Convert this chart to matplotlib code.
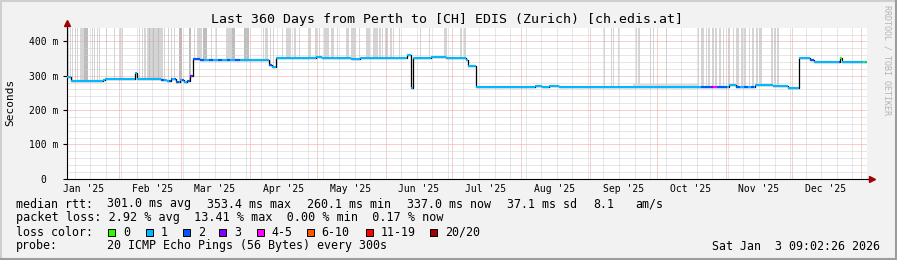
import numpy as np
import matplotlib
matplotlib.use("Agg")
import matplotlib.pyplot as plt
import matplotlib.dates as mdates
from matplotlib.patches import Rectangle
from datetime import datetime, timedelta

W, H = 897, 260
MONO = "DejaVu Sans Mono"
plt.rcParams["font.family"] = MONO

start = datetime(2025, 1, 8, 9, 2, 26)
ndays = 360
ymax = 440

# median rtt in ms, each value holds from its day offset until the next one
med_day = [0, 2, 16.3, 17.3, 30.8, 31.6, 42.5, 45, 47, 49.3, 51, 53, 54, 55.7, 56.8,
           60, 65, 70, 77.6, 85, 91.1, 92.5, 94.3, 100, 112.3, 115, 128, 132, 153.2,
           155, 155.9, 164, 170.8, 179.8, 180.7, 184.2, 197.8, 210.8, 214, 217.1,
           221.6, 240, 260, 285.5, 298.1, 301.3, 309.9, 317.8, 324.6, 329.5, 334.6,
           336.4, 348.2, 348.8]
med_ms = [296, 285, 289, 291, 309, 291, 288, 285, 290, 283, 287, 281, 286, 300, 348,
          346, 345, 347, 345, 346, 330, 325, 353, 351, 355, 352, 350, 352, 360,
          263, 352, 356, 352, 347, 328, 266, 268, 271, 268, 271,
          267, 266, 267, 267, 272, 266, 272, 270, 265, 352, 347,
          340, 352, 340]

# loss colour runs that differ from "1" (day from, day to, bucket)
loss_runs = [(42.5, 44, "2"), (46, 47.5, "2"), (49, 50.5, "2"), (52, 53, "2"),
             (54, 55.7, "2"), (55.7, 56.8, "3"), (56.8, 62, "2"), (64, 66, "2"),
             (68, 70, "2"), (72, 73.5, "2"), (76, 78, "2"), (91, 92.5, "2"),
             (285.5, 290, "2"), (290, 291, "3"), (291, 292.5, "4-5"),
             (292.5, 297, "2"), (301.3, 303, "2"), (305, 306.5, "2"),
             (308, 309.5, "2"), (334.6, 336.4, "2"), (347.5, 348.2, "2"),
             (348.2, 348.8, "0"), (358.5, 359.3, "0")]

# smoke: day ranges where the ping spread reaches the top of the graph
smoke_light = [(0.8, 1.3), (1.7, 2.1), (2.6, 3.0), (3.7, 4.1), (4.7, 5.1), (5.9, 6.3),
               (6.5, 7.7), (11.3, 11.8), (12.5, 13.0),
               (13.7, 14.2), (14.8, 15.2), (17.8, 18.1), (21.5, 22.0), (24.2, 24.7),
               (25.1, 25.4), (32.5, 33.2), (34.1, 34.6), (35.0, 35.9), (36.2, 43.3),
               (44.0, 44.5), (45.5, 45.8), (47.0, 47.5), (48.5, 49.0), (57.5, 58.0),
               (58.6, 61.0), (65.0, 65.5),
               (67.3, 67.7), (71.8, 74.5), (88.3, 88.6), (89.5, 90.5), (91.6, 92.2),
               (92.8, 93.1), (97.0, 97.3), (98.8, 101.0), (102.5, 103.3), (104.8, 105.1),
               (108.5, 110.0), (111.8, 112.7), (113.5, 114.1), (116.0, 118.0),
               (119.0, 120.5), (121.7, 122.0), (125.8, 127.3), (128.0, 130.3),
               (131.5, 131.9), (134.8, 136.7), (137.8, 138.2), (138.5, 140.0),
               (140.8, 141.5), (141.8, 142.6), (143.3, 144.5), (145.7, 146.5),
               (146.9, 147.2), (149.8, 150.2), (159.2, 159.5), (163.3, 163.6),
               (170.0, 171.2), (177.2, 177.8), (179.0, 179.8), (241.7, 242.0),
               (245.0, 245.5), (246.1, 246.5), (248.3, 248.8), (256.3, 256.7),
               (257.3, 258.2), (262.7, 263.0), (263.8, 264.2), (269.8, 270.2),
               (284.0, 284.8), (285.5, 287.0), (287.8, 288.2), (288.8, 289.7),
               (290.5, 291.2), (292.0, 292.7), (293.5, 294.5), (295.3, 296.0),
               (297.5, 298.4), (299.8, 300.2), (301.3, 302.8), (303.5, 304.3),
               (305.0, 305.8), (307.0, 307.6), (308.5, 309.5), (310.3, 311.2),
               (311.8, 313.0), (317.0, 317.8), (318.5, 319.3), (319.7, 320.5)]
smoke_dark = [(8.0, 9.8), (37.0, 37.4), (38.8, 39.2), (41.0, 41.4), (50.8, 52.1),
              (55.1, 56.0), (61.6, 63.0), (74.5, 76.0), (80.0, 82.3)]
# low smoke just above the median line (day from, day to, top ms)
smoke_low = [(255, 284, 277)]

loss_colors = {"0": "#26ff00", "1": "#00b8ff", "2": "#0059ff", "3": "#7e00ff",
               "4-5": "#ff00ff", "6-10": "#ff5500", "11-19": "#ff0000", "20/20": "#a10000"}

y_ticks = [0, 100, 200, 300, 400]
y_labels = ["0  ", "100 m", "200 m", "300 m", "400 m"]

t0 = mdates.date2num(start)


def med_at(d):
    i = np.searchsorted(med_day, d, side="right") - 1
    return med_ms[max(i, 0)]


def pieces(a, b):
    ends = med_day[1:] + [ndays]
    out = []
    for d0, d1, v in zip(med_day, ends, med_ms):
        lo, hi = max(a, d0), min(b, d1)
        if hi > lo:
            out.append((lo, hi, v))
    return out


fig = plt.figure(figsize=(W / 100, H / 100), dpi=100, facecolor="#f2f2f2")
ax = fig.add_axes([66.5 / W, 1 - 178.7 / H, 800 / W, 151 / H])
ax.set_facecolor("white")

# smoke
for d0, d1 in smoke_light:
    m = med_at((d0 + d1) / 2)
    ax.bar(t0 + d0, ymax + 10 - m, bottom=m, width=max(d1 - d0, 0.45), align="edge",
           color="#d5d5d5", lw=0, zorder=1)
for d0, d1 in smoke_dark:
    m = med_at((d0 + d1) / 2)
    ax.bar(t0 + d0, ymax + 10 - m, bottom=m, width=max(d1 - d0, 0.45), align="edge",
           color="#bdbdbd", lw=0, zorder=1)
for d0, d1, top in smoke_low:
    for a, b, v in pieces(d0, d1):
        ax.bar(t0 + a, top - v, bottom=v, width=b - a, align="edge",
               color="#dedede", lw=0, zorder=1)

# grid (rrdtool paints it over the data)
end = start + timedelta(days=ndays)
xmin, xmax = t0, t0 + ndays
months = [m for m in mdates.MonthLocator(bymonthday=1).tick_values(start, end) if xmin < m < xmax]
weeks = [w for w in mdates.WeekdayLocator(byweekday=mdates.SU).tick_values(start, end)
         if xmin < w < xmax and w not in months]
dots = (0, (1, 1))
grid = [ax.vlines(weeks, 0, ymax, colors="#cfcfcf", linestyles=dots, lw=0.72, zorder=2),
        ax.vlines(months, 0, ymax, colors="#f0a0a0", linestyles=dots, lw=0.72, zorder=2),
        ax.hlines([v for v in range(20, ymax, 20) if v % 100], xmin, xmax,
                  colors="#cfcfcf", linestyles=dots, lw=0.72, zorder=2),
        ax.hlines([100, 200, 300, 400], xmin, xmax, colors="#f0a0a0",
                  linestyles=dots, lw=0.72, zorder=2)]
for g in grid:
    g.set_snap(True)

# median line: black steps, loss coloured flats on top
ax.step([t0 + d for d in med_day] + [xmax], med_ms + [med_ms[-1]], where="post",
        color="black", lw=0.9, zorder=3)
for a, b, v in pieces(0, ndays):
    ax.hlines(v, t0 + a, t0 + b, colors=loss_colors["1"], lw=1.5, zorder=4)
for d0, d1, cat in loss_runs:
    for a, b, v in pieces(d0, d1):
        ax.hlines(v, t0 + a, t0 + b, colors=loss_colors[cat], lw=1.5, zorder=5)

ax.set_xlim(xmin, xmax)
ax.set_ylim(0, ymax)
ax.xaxis.set_major_locator(mdates.MonthLocator(bymonthday=16))
ax.xaxis.set_major_formatter(mdates.DateFormatter("%b '%y"))
ax.set_yticks(y_ticks)
ax.set_yticklabels(y_labels)
ax.tick_params(axis="x", length=0, pad=4, labelsize=7)
ax.tick_params(axis="y", length=3, width=0.8, pad=3, labelsize=7)
for s in ["top", "right"]:
    ax.spines[s].set_visible(False)
for s in ["left", "bottom"]:
    ax.spines[s].set_linewidth(0.8)

# axis arrows
ax.plot([0, 0], [1.0, 1.025], color="black", lw=0.8, transform=ax.transAxes, clip_on=False)
ax.plot([1.0, 1.004], [0, 0], color="black", lw=0.8, transform=ax.transAxes, clip_on=False)
ax.plot([0], [1.03], marker="^", ms=4.5, color="#a00000", transform=ax.transAxes, clip_on=False)
ax.plot([1.007], [0], marker=">", ms=4.5, color="#a00000", transform=ax.transAxes, clip_on=False)


def ftext(x, y, s, **kw):
    fig.text(x / W, 1 - y / H, s, va="center", **kw)


ftext(446.7, 19.5, "Last 360 Days from Perth to [CH] EDIS (Zurich) [ch.edis.at]",
      ha="center", fontsize=9.5)
ftext(10, 102, "Seconds", ha="center", rotation=90, fontsize=8)
ftext(887, 60, "RRDTOOL / TOBI OETIKER", ha="center", rotation=-90, fontsize=6,
      color="#b4b4b4")

fs = 8.4
line1 = [(16, "median rtt:"), (107.3, "301.0 ms avg"), (207.3, "353.4 ms max"),
         (306.7, "260.1 ms min"), (406.7, "337.0 ms now"), (507.3, "37.1 ms sd"),
         (593.3, "8.1"), (635, "am/s")]
for x, s in line1:
    ftext(x, 204, s, fontsize=fs)
ftext(16, 218, "packet loss: 2.92 % avg  13.41 % max  0.00 % min  0.17 % now", fontsize=8.5)
ftext(16, 232, "loss color:", fontsize=fs)
legend_x = [108.3, 145.7, 182.7, 219.3, 256.7, 306.7, 366, 430]
for bx, (name, col) in zip(legend_x, loss_colors.items()):
    fig.add_artist(Rectangle((bx / W, 1 - 236 / H), 7 / W, 7 / H, facecolor=col,
                             edgecolor="black", lw=0.7, transform=fig.transFigure))
    ftext(bx + 15, 232, name, fontsize=fs)
ftext(16, 246, "probe:", fontsize=fs)
ftext(107.3, 246, "20 ICMP Echo Pings (56 Bytes) every 300s", fontsize=fs)
ftext(880, 246, "Sat Jan  3 09:02:26 2026", ha="right", fontsize=fs)

# 3d frame
fig.add_artist(plt.Line2D([0, 1], [1 - 1 / H, 1 - 1 / H], color="#cfcfcf", lw=1.5, transform=fig.transFigure))
fig.add_artist(plt.Line2D([1 / W, 1 / W], [0, 1], color="#cfcfcf", lw=1.5, transform=fig.transFigure))
fig.add_artist(plt.Line2D([0, 1], [1 / H, 1 / H], color="#9c9c9c", lw=1.5, transform=fig.transFigure))
fig.add_artist(plt.Line2D([1 - 1 / W, 1 - 1 / W], [0, 1], color="#9c9c9c", lw=1.5, transform=fig.transFigure))

fig.savefig("out.png", dpi=100, facecolor=fig.get_facecolor())
